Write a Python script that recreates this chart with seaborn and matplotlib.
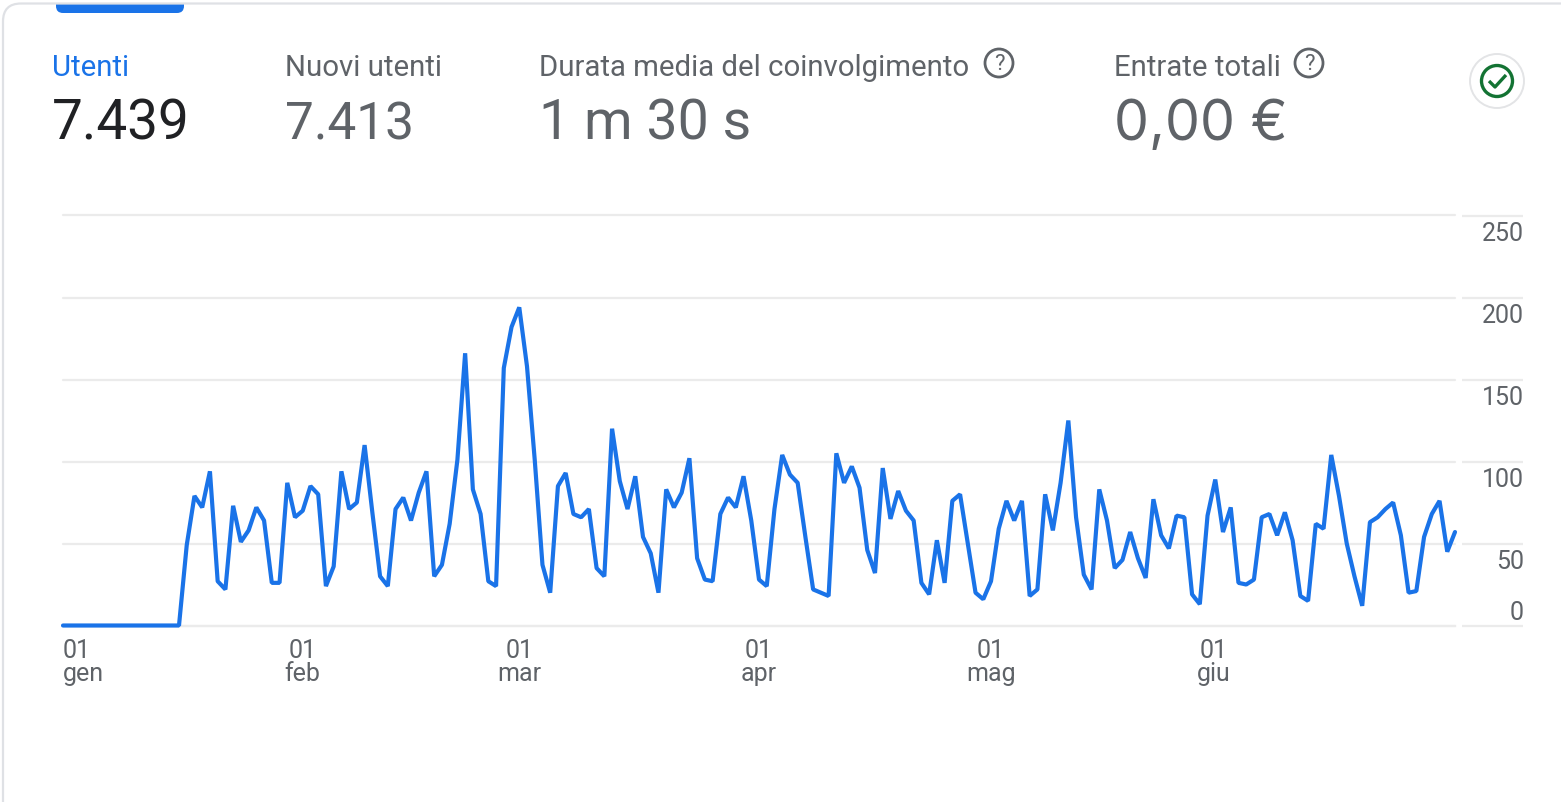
import pandas as pd
import seaborn as sns
import matplotlib.pyplot as plt
from matplotlib.patches import FancyBboxPatch, Rectangle, Circle
from matplotlib.transforms import ScaledTranslation

# ===== dati =====
utenti_gen = [0, 0, 0, 0, 0, 0, 0, 0, 0, 0, 0, 0, 0, 0, 0, 0,
              49, 79, 72, 94, 27, 22, 73, 51, 58, 72, 64, 26, 26, 87, 66]
utenti_feb = [70, 85, 80, 24, 36, 94, 71, 75, 110, 69, 30, 24, 71, 78,
              64, 81, 94, 30, 37, 62, 101, 166, 83, 68, 27, 24, 157, 182]
utenti_mar = [194, 158, 101, 37, 20, 85, 93, 68, 66, 71, 35, 30, 120, 88, 71, 91,
              54, 44, 20, 83, 72, 81, 102, 41, 28, 27, 68, 78, 72, 91, 64]
utenti_apr = [28, 24, 71, 104, 92, 87, 54, 22, 20, 18, 105, 87, 97, 84, 46,
              32, 96, 65, 82, 70, 64, 26, 19, 52, 26, 76, 80, 50, 20, 16]
utenti_mag = [27, 59, 76, 64, 76, 18, 22, 80, 58, 87, 125, 66, 31, 22, 83, 64,
              35, 40, 57, 41, 29, 77, 55, 47, 67, 66, 19, 13, 67, 89, 57]
utenti_giu = [72, 26, 25, 28, 66, 68, 55, 69, 52, 18, 15, 62, 59, 104, 79,
              50, 30, 12, 63, 66, 71, 75, 55, 20, 21, 54, 68, 76, 45, 57]

mesi = ["gen", "feb", "mar", "apr", "mag", "giu"]
inizio_mesi = ["2023-01-01", "2023-02-01", "2023-03-01", "2023-04-01", "2023-05-01", "2023-06-01"]
y_ticks = [0, 50, 100, 150, 200, 250]

metriche = ["Utenti", "Nuovi utenti", "Durata media del coinvolgimento", "Entrate totali"]
valori = ["7.439", "7.413", "1 m 30 s", "0,00 €"]

BLU = "#1a73e8"
GRIGIO = "#5f6368"
GRIGLIA = "#ebebeb"
W, H = 1561, 803

df = pd.DataFrame({
    "data": pd.date_range("2023-01-01", "2023-06-30"),
    "utenti": utenti_gen + utenti_feb + utenti_mar + utenti_apr + utenti_mag + utenti_giu,
})

sns.set_theme(style="white")
plt.rcParams["font.family"] = ["Roboto", "DejaVu Sans"]

fig = plt.figure(figsize=(W / 100, H / 100), dpi=100)

# ===== livello in pixel per scheda e intestazioni =====
bg = fig.add_axes([0, 0, 1, 1])
bg.set_xlim(0, W)
bg.set_ylim(H, 0)
bg.axis("off")

bg.add_patch(FancyBboxPatch((56, -20), 128, 34, boxstyle="round,pad=0,rounding_size=7",
                            fc=BLU, ec="none", zorder=1))
bg.add_patch(Rectangle((0, 0), W, 5, fc="white", ec="none", zorder=2))
bg.add_patch(FancyBboxPatch((3, 4.5), W + 60, H + 40, boxstyle="round,pad=0,rounding_size=18",
                            fc="none", ec="#dfe1e5", lw=1.6, zorder=3))

x_metriche = [52, 285, 539, 1114]
colori_titolo = [BLU, GRIGIO, GRIGIO, GRIGIO]
colori_valore = ["#202124", GRIGIO, GRIGIO, GRIGIO]
font_valore = ["Roboto", "Roboto", "Roboto", "Inter"]
size_valore = [39.5, 37, 40, 40]
for i, (x, m, v) in enumerate(zip(x_metriche, metriche, valori)):
    bg.text(x, 76, m, fontsize=21.2, color=colori_titolo[i], va="baseline", ha="left")
    bg.text(x, 140, v, fontsize=size_valore[i], color=colori_valore[i], va="baseline", ha="left",
            family=[font_valore[i], "DejaVu Sans"])

# icone di aiuto
for cx in [999, 1309]:
    bg.add_patch(Circle((cx, 64), 14, fc="none", ec=GRIGIO, lw=2))
    bg.text(cx, 64, "?", fontsize=16, color=GRIGIO, ha="center", va="center")

# icona di stato
bg.add_patch(Circle((1497, 82), 27, fc="white", ec="#e3e4e6", lw=1.4))
bg.add_patch(Circle((1497, 82), 15.5, fc="none", ec="#137333", lw=2.4))
bg.plot([1489, 1495, 1506], [82, 88, 76], color="#137333", lw=2.4, solid_capstyle="butt")

# segmenti di griglia a destra, sopra le etichette
for v in y_ticks:
    py = 626.5 - v * 410 / 250
    bg.plot([1462, 1523], [py, py], color=GRIGLIA, lw=1.6, solid_capstyle="butt")

# ===== grafico =====
ax = fig.add_axes([63 / W, 1 - 626.5 / H, (1455 - 63) / W, 410 / H])
ax.patch.set_alpha(0)
sns.lineplot(data=df, x="data", y="utenti", ax=ax, color=BLU, linewidth=3,
             errorbar=None, clip_on=False, solid_joinstyle="bevel", zorder=5)

ax.set_xlim(df["data"].iloc[0], df["data"].iloc[-1])
ax.set_ylim(0, 250)
ax.set_xlabel("")
ax.set_ylabel("")
sns.despine(ax=ax, left=True, right=True, top=True, bottom=False)
ax.spines["bottom"].set_color(GRIGLIA)
ax.spines["bottom"].set_linewidth(1.6)

ax.set_yticks(y_ticks)
ax.grid(axis="y", color=GRIGLIA, linewidth=1.6)
ax.set_axisbelow(True)
for g in ax.get_ygridlines():
    g.set_clip_on(False)

ax.yaxis.tick_right()
ax.tick_params(axis="y", length=0, pad=49.7, labelsize=18, labelcolor=GRIGIO)
for lab, v in zip(ax.get_yticklabels(), y_ticks):
    lab.set_ha("right")
    dy = 16 if v == 0 else -15.5
    lab.set_transform(lab.get_transform() + ScaledTranslation(0, dy / 100, fig.dpi_scale_trans))

ax.set_xticks(pd.to_datetime(inizio_mesi))
ax.set_xticklabels([f"01\n{m}" for m in mesi])
ax.tick_params(axis="x", length=8, width=1.6, color=GRIGLIA, pad=1, labelsize=18, labelcolor=GRIGIO)
for lab in ax.get_xticklabels():
    lab.set_linespacing(0.95)
ax.get_xticklabels()[0].set_ha("left")
ax.get_xticklabels()[-1].set_ha("right")
ax.get_xticklabels()[-1].set_multialignment("center")

fig.savefig("out.png", dpi=100)
plt.close(fig)
